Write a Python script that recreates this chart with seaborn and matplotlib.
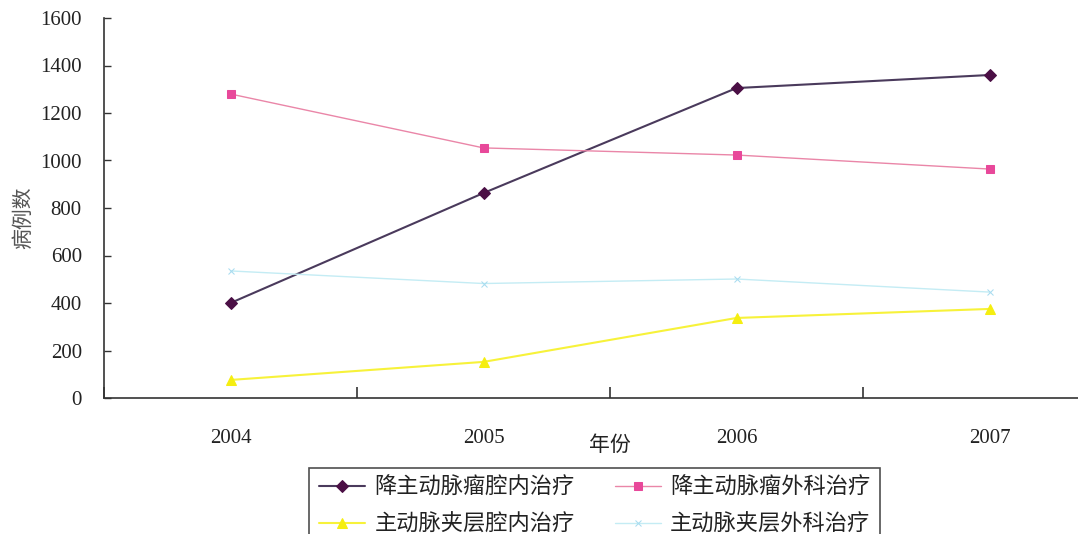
import pandas as pd
import matplotlib.pyplot as plt
import seaborn as sns

# 数据
years = ["2004", "2005", "2006", "2007"]
s1_name = "降主动脉瘤腔内治疗"
s2_name = "降主动脉瘤外科治疗"
s3_name = "主动脉夹层腔内治疗"
s4_name = "主动脉夹层外科治疗"
s1 = [400, 863, 1305, 1360]
s2 = [1280, 1053, 1023, 964]
s3 = [76, 152, 337, 375]
s4 = [535, 482, 501, 446]

rows = []
for name, vals in [(s1_name, s1), (s2_name, s2), (s3_name, s3), (s4_name, s4)]:
    for i, (y, v) in enumerate(zip(years, vals)):
        rows.append({"年份": y, "pos": i, "系列": name, "病例数": v})
df = pd.DataFrame(rows)

sns.set_theme(style="white")
plt.rcParams["font.family"] = ["Liberation Serif", "Noto Sans CJK SC"]

styles = {
    s1_name: dict(color="#4a3a5c", marker="D", mfc="#4b0f45", ms=6, lw=1.5),
    s2_name: dict(color="#ea86a8", marker="s", mfc="#e8489a", ms=6, lw=1.0),
    s3_name: dict(color="#f7f23a", marker="^", mfc="#f5ee10", ms=7, lw=1.5),
    s4_name: dict(color="#c4ecf4", marker="x", mfc="#a8dcf0", ms=5, lw=1.0),
}

fig = plt.figure(figsize=(10.78, 5.34), dpi=100)
ax = fig.add_axes([104 / 1078, 1 - 398 / 534, 1012 / 1078, 380 / 534])

for name, st in styles.items():
    sub = df[df["系列"] == name]
    sns.lineplot(data=sub, x="pos", y="病例数", ax=ax, color=st["color"],
                 linewidth=st["lw"], marker=st["marker"], markersize=st["ms"],
                 markerfacecolor=st["mfc"], markeredgecolor=st["mfc"],
                 label=name)

ax.set_xlim(-0.5, 3.5)
ax.set_ylim(0, 1600)
ax.set_yticks(range(0, 1601, 200))
ax.set_xticks([-0.5, 0.5, 1.5, 2.5, 3.5])
ax.set_xticklabels([])
ax.set_xticks(range(4), minor=True)
ax.set_xticklabels(years, minor=True)
ax.tick_params(axis="x", which="major", bottom=True, direction="in", length=8,
               width=1.2, color="#333333")
ax.tick_params(axis="x", which="minor", bottom=False, length=0, pad=22, labelsize=15,
               labelcolor="#222222")
ax.tick_params(axis="y", left=True, direction="in", length=5, width=1.0,
               color="#333333", pad=16, labelsize=15, labelcolor="#222222")

for side in ["top", "right"]:
    ax.spines[side].set_visible(False)
for side in ["left", "bottom"]:
    ax.spines[side].set_color("#333333")
    ax.spines[side].set_linewidth(1.2)

ax.set_xlabel("年份", fontsize=15, labelpad=-8, color="#222222")
ax.set_ylabel("病例数", fontsize=15, color="#555555")
ax.yaxis.set_label_coords(-70 / 1012, 0.474)

ax.get_legend().remove()
handles, labels = ax.get_legend_handles_labels()
order = [0, 2, 1, 3]
leg = fig.legend([handles[i] for i in order], [labels[i] for i in order],
                 loc="upper center", ncol=2,
                 bbox_to_anchor=(594.5 / 1078, 1 - 468 / 534),
                 fontsize=16, frameon=True, fancybox=False,
                 edgecolor="#222222", handlelength=2.1, handletextpad=0.4,
                 columnspacing=1.8, borderpad=0.45, borderaxespad=0,
                 labelspacing=0.7)
leg.get_frame().set_linewidth(1.2)
for t in leg.get_texts():
    t.set_color("#222222")

fig.savefig("out.png", dpi=100)
